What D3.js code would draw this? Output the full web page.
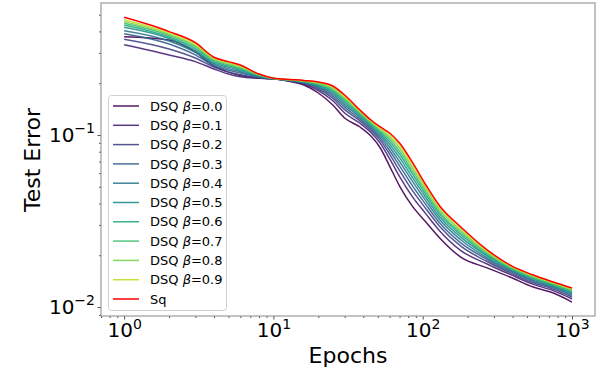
<!DOCTYPE html>
<html><head><meta charset="utf-8">
<script src="https://cdn.jsdelivr.net/npm/d3@7"></script>
<style>body{margin:0;background:#fff}svg{display:block}text{font-family:"DejaVu Sans",sans-serif}</style>
</head><body><svg id="c" width="598" height="382"></svg>
<script>
const epochs = [1,2,3,4,5,6,8,10,13,16,20,25,30,38,45,52,60,70,85,105,130,180,270,385,550,750,1000];
const betaLabels = ["0.0","0.1","0.2","0.3","0.4","0.5","0.6","0.7","0.8","0.9"];
const dsq00 = [0.373,0.357,0.304,0.252,0.232,0.222,0.2145,0.212,0.2047,0.1953,0.1754,0.1493,0.1255,0.1113,0.0986,0.0840,0.0660,0.0505,0.0387,0.0312,0.0252,0.0195,0.0169,0.01494,0.01307,0.01206,0.01069];
const dsq01 = [0.335,0.292,0.267,0.242,0.226,0.218,0.214,0.212,0.2058,0.1979,0.1812,0.1580,0.1343,0.1170,0.1034,0.0894,0.0728,0.0573,0.0440,0.0348,0.0277,0.0213,0.0178,0.01547,0.01354,0.01245,0.01114];
const dsq02 = [0.360,0.316,0.280,0.248,0.232,0.224,0.215,0.212,0.2066,0.1996,0.1850,0.1637,0.1403,0.1208,0.1066,0.0930,0.0774,0.0621,0.0478,0.0373,0.0294,0.0226,0.0184,0.01583,0.01385,0.01271,0.01143];
const dsq03 = [0.388,0.338,0.292,0.253,0.238,0.229,0.217,0.212,0.2072,0.2009,0.1881,0.1684,0.1451,0.1238,0.1091,0.0959,0.0812,0.0662,0.0510,0.0394,0.0308,0.0236,0.0189,0.01611,0.01410,0.01292,0.01167];
const dsq04 = [0.404,0.352,0.302,0.258,0.243,0.233,0.218,0.213,0.2078,0.2021,0.1908,0.1727,0.1496,0.1267,0.1114,0.0986,0.0849,0.0701,0.0541,0.0414,0.0322,0.0246,0.0193,0.01637,0.01432,0.01311,0.01189];
const dsq05 = [0.423,0.364,0.310,0.262,0.248,0.237,0.220,0.213,0.2083,0.2032,0.1934,0.1767,0.1538,0.1293,0.1136,0.1012,0.0884,0.0738,0.0570,0.0433,0.0334,0.0255,0.0198,0.01661,0.01453,0.01329,0.01209];
const dsq06 = [0.436,0.371,0.318,0.267,0.252,0.241,0.221,0.213,0.2088,0.2042,0.1957,0.1804,0.1577,0.1317,0.1156,0.1035,0.0916,0.0773,0.0598,0.0450,0.0346,0.0263,0.0201,0.01682,0.01472,0.01344,0.01228];
const dsq07 = [0.446,0.379,0.325,0.271,0.256,0.245,0.223,0.213,0.2091,0.2050,0.1977,0.1836,0.1611,0.1338,0.1173,0.1055,0.0944,0.0805,0.0623,0.0466,0.0356,0.0270,0.0205,0.01701,0.01489,0.01358,0.01244];
const dsq08 = [0.456,0.385,0.331,0.275,0.260,0.249,0.224,0.213,0.2095,0.2059,0.1997,0.1869,0.1646,0.1359,0.1191,0.1076,0.0974,0.0838,0.0649,0.0482,0.0367,0.0278,0.0208,0.01720,0.01506,0.01373,0.01260];
const dsq09 = [0.466,0.392,0.338,0.279,0.263,0.252,0.225,0.214,0.2098,0.2067,0.2015,0.1898,0.1677,0.1378,0.1206,0.1094,0.1000,0.0868,0.0673,0.0497,0.0377,0.0285,0.0211,0.01737,0.01520,0.01385,0.01275];
const sq    = [0.483,0.399,0.344,0.283,0.267,0.255,0.226,0.214,0.2102,0.2074,0.2033,0.1927,0.1708,0.1397,0.1222,0.1113,0.1027,0.0898,0.0697,0.0512,0.0387,0.0292,0.0215,0.01754,0.01535,0.01397,0.01289];
const xMajorTicks = [1,10,100,1000];
const xMajorExp = ["0","1","2","3"];
const yMajorTicks = [0.01,0.1];
const yMajorExp = ["\u22122","\u22121"];

const dsqSeries = [dsq00,dsq01,dsq02,dsq03,dsq04,dsq05,dsq06,dsq07,dsq08,dsq09];
const series = dsqSeries.map((vals,i)=>({name:"DSQ", beta:betaLabels[i], color:d3.interpolateViridis(i/10), values:vals}));
series.push({name:"Sq", beta:null, color:"#ff0000", values:sq});

const svg = d3.select("#c");
const L=101, R=595, T=3, B=316;
const x = d3.scaleLog().domain([0.70,1426]).range([L,R]);
const y = d3.scaleLog().domain([0.00887,0.585]).range([B,T]);

// minor ticks
const xMinor=[], yMinor=[];
for (let d=0.1; d<=1000; d*=10) for (let k=2;k<=9;k++){const v=+(d*k).toPrecision(3); if(v>=0.70&&v<=1426&&!xMajorTicks.includes(v)) xMinor.push(v);}
for (let d=0.001; d<=1; d*=10) for (let k=2;k<=9;k++){const v=+(d*k).toPrecision(3); if(v>=0.00887&&v<=0.585) yMinor.push(v);}

const line = d3.line().x((d,i)=>x(epochs[i])).y(d=>y(d)).curve(d3.curveMonotoneX);
const g = svg.append("g");
series.forEach(s=>{
  g.append("path").attr("d",line(s.values)).attr("fill","none")
   .attr("stroke",s.color).attr("stroke-width",1.5).attr("stroke-opacity",s.beta===null?1:0.9);
});

// axes
const xAxisMaj = d3.axisBottom(x).tickValues(xMajorTicks).tickSize(3.5).tickPadding(3.5).tickFormat(()=> "");
const xAxisMin = d3.axisBottom(x).tickValues(xMinor).tickSize(2).tickFormat(()=> "");
const yAxisMaj = d3.axisLeft(y).tickValues(yMajorTicks).tickSize(3.5).tickPadding(3.5).tickFormat(()=> "");
const yAxisMin = d3.axisLeft(y).tickValues(yMinor).tickSize(2).tickFormat(()=> "");
const gxm = svg.append("g").attr("transform",`translate(0,${B})`).call(xAxisMin);
const gx = svg.append("g").attr("transform",`translate(0,${B})`).call(xAxisMaj);
const gym = svg.append("g").attr("transform",`translate(${L},0)`).call(yAxisMin);
const gy = svg.append("g").attr("transform",`translate(${L},0)`).call(yAxisMaj);
[gx,gxm,gy,gym].forEach(a=>{a.select(".domain").remove(); a.selectAll(".tick line").attr("stroke","#222").attr("stroke-width",0.8);});

gx.selectAll(".tick text").each(function(d,i){
  const t=d3.select(this).text("").attr("font-size",20).attr("fill","#000").attr("dy","0.71em").attr("y",7);
  t.append("tspan").text("10");
  t.append("tspan").text(xMajorExp[i]).attr("font-size",14).attr("dy","-0.62em");
});
gy.selectAll(".tick text").each(function(d,i){
  const t=d3.select(this).text("").attr("font-size",20).attr("fill","#000").attr("dy","0.32em").attr("x",-6);
  t.append("tspan").text("10");
  t.append("tspan").text(yMajorExp[i]).attr("font-size",14).attr("dy","-0.62em");
});

// frame
svg.append("rect").attr("x",L).attr("y",T).attr("width",R-L).attr("height",B-T)
  .attr("fill","none").attr("stroke","#9a9a9a").attr("stroke-width",1.2);

// axis labels
svg.append("text").attr("x",(L+R)/2).attr("y",363).attr("text-anchor","middle").attr("font-size",22).text("Epochs");
svg.append("text").attr("transform","translate(40,160) rotate(-90)").attr("text-anchor","middle").attr("font-size",22).text("Test Error");

// legend
const lg = svg.append("g");
lg.append("rect").attr("x",108.5).attr("y",95.5).attr("width",118).attr("height",215).attr("rx",3)
  .attr("fill","#fff").attr("fill-opacity",0.8).attr("stroke","#d0d0d0").attr("stroke-width",1);
series.forEach((s,i)=>{
  const yy = 106 + i*19.3;
  lg.append("line").attr("x1",113).attr("x2",139).attr("y1",yy).attr("y2",yy)
    .attr("stroke",s.color).attr("stroke-width",1.5).attr("stroke-opacity",s.beta===null?1:0.9);
  const t = lg.append("text").attr("x",150).attr("y",yy).attr("dy","0.36em").attr("font-size",13).attr("fill","#000");
  if (s.beta===null) t.text(s.name);
  else { t.append("tspan").text(s.name+" "); t.append("tspan").attr("font-style","italic").text("\u03b2"); t.append("tspan").text("="+s.beta); }
});
</script></body></html>
